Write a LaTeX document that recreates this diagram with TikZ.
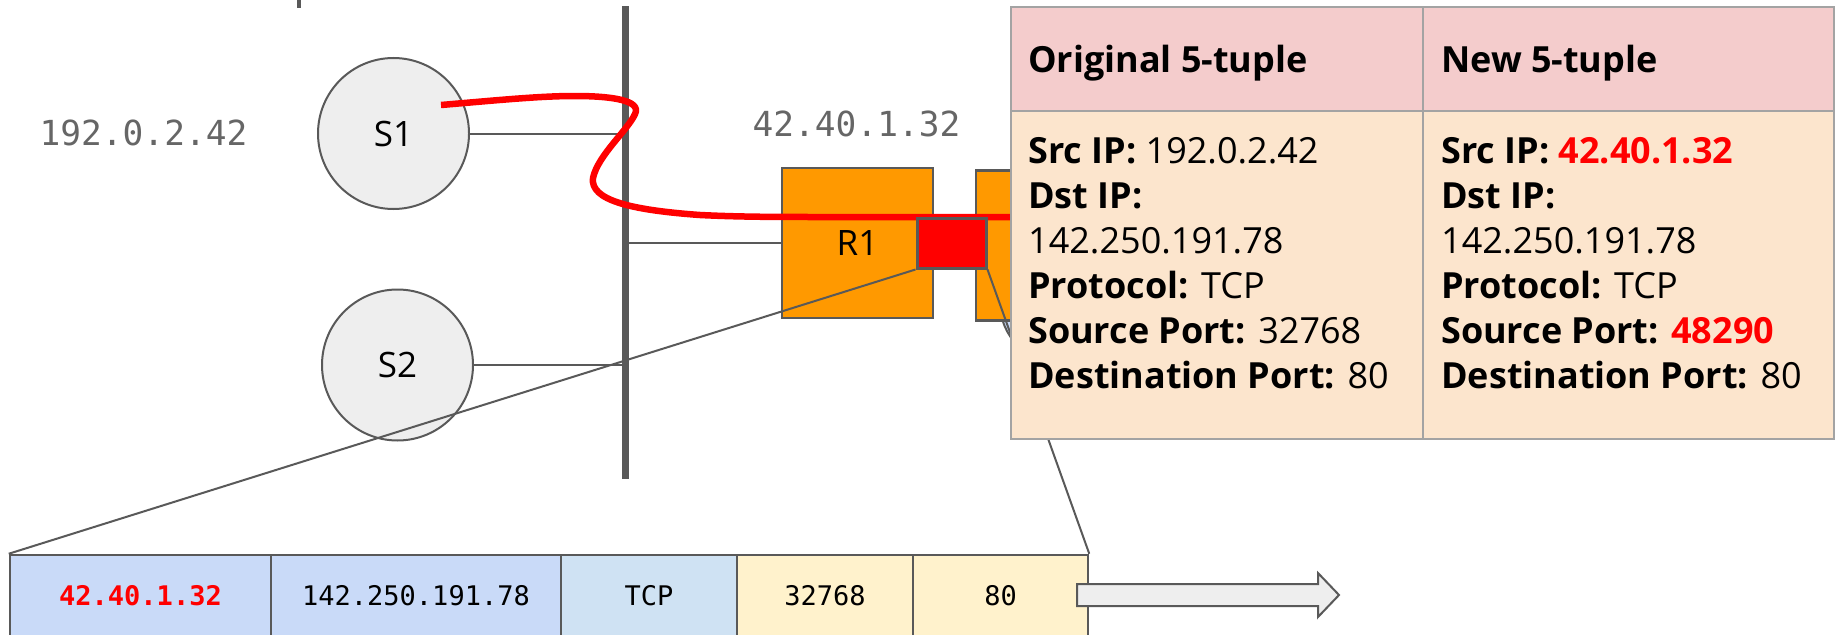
\documentclass[tikz,border=0pt]{standalone}
\usepackage{fontspec}
\setmainfont{Open Sans}
\newfontfamily\dvmono{DejaVu Sans Mono}
\definecolor{linegray}{HTML}{595959}
\definecolor{hostfill}{HTML}{EEEEEE}
\definecolor{routerorange}{HTML}{FF9900}
\definecolor{natred}{HTML}{FF0000}
\definecolor{labelgray}{HTML}{666666}
\definecolor{hdrfill}{HTML}{F4CCCC}
\definecolor{bodyfill}{HTML}{FCE5CD}
\definecolor{tborder}{HTML}{A3A3A3}
\definecolor{pktblue}{HTML}{C9DAF8}
\definecolor{pktlblue}{HTML}{CFE2F3}
\definecolor{pktyellow}{HTML}{FFF2CC}
\begin{document}
\begin{tikzpicture}[x=1pt,y=-1pt,
  gline/.style={draw=linegray, line width=2},
  host/.style={circle, draw=linegray, line width=2, fill=hostfill, minimum size=151, inner sep=0, font=\fontsize{35}{40}\selectfont},
  router/.style={rectangle, draw=linegray, line width=2.5, fill=routerorange, inner sep=0, minimum width=151, minimum height=150, font=\fontsize{35}{40}\selectfont},
  iplabel/.style={anchor=base, inner sep=0, text=labelgray, font=\dvmono\fontsize{34.5}{40}\selectfont},
  hdrcell/.style={rectangle, draw=tborder, line width=2, fill=hdrfill, inner sep=0, minimum height=104},
  bodycell/.style={rectangle, draw=tborder, line width=2, fill=bodyfill, inner sep=0, minimum height=328},
  hdrtext/.style={anchor=base west, inner sep=0, font=\bfseries\fontsize{36}{45}\selectfont},
  ttext/.style={anchor=base west, inner sep=0, font=\fontsize{36}{45}\selectfont},
  pkt/.style={rectangle, draw=linegray, line width=2.5, inner sep=0, minimum height=82, font=\dvmono\fontsize{27}{30}\selectfont},
]
\useasboundingbox (0,0) rectangle (1835,634);
\clip (0,0) rectangle (1835,634);

% small tick at top
\draw[linegray, line width=4] (299,0) -- (299,8);

% network bar
\node[fill=linegray, minimum width=7, minimum height=473, inner sep=0] (bar) at (625.5,242.5) {};

% hosts and router
\node[host] (S1) at (393.5,133.5) {S1};
\node[host] (S2) at (397.5,365) {S2};
\node[circle, draw=linegray, line width=2, fill=pktblue, minimum size=120, inner sep=0] (cloud) at (1060,303) {};
\node[router] (R1) at (857.5,243) {R1};
\node[router] (R2) at (1051.5,245.5) {};

% links to bar
\draw[gline] (S1.east) -- (S1.east -| bar.west);
\draw[gline] (S2.east) -- (S2.east -| bar.west);
\draw[gline] (R1.west -| bar.east) -- (R1.west);

% address labels
\node[iplabel] (ipS1) at (143.5,145) {192.0.2.42};
\node[iplabel] (ipR1) at (856.5,136) {42.40.1.32};

% packet path
\draw[natred, line width=6.5]
  (441,105) .. controls (500,100) and (540,96) .. (575,96)
  .. controls (610,96) and (642,100) .. (635,114)
  .. controls (628,130) and (598,155) .. (593,178)
  .. controls (590,200) and (630,210) .. (700,215)
  .. controls (740,217) and (780,217) .. (820,217)
  -- (1020,217);

% packet on the wire
\node[rectangle, draw=linegray, line width=3, fill=natred, inner sep=0, minimum width=69, minimum height=50] (nat) at (951.5,243) {};

% packet fields
\node[pkt, fill=pktblue, minimum width=261] (p1) at (140.5,596) {\bfseries\textcolor{natred}{42.40.1.32}};
\node[pkt, fill=pktblue, minimum width=290] (p2) at (416,596) {142.250.191.78};
\node[pkt, fill=pktlblue, minimum width=176] (p3) at (649,596) {TCP};
\node[pkt, fill=pktyellow, minimum width=176] (p4) at (825,596) {32768};
\node[pkt, fill=pktyellow, minimum width=175] (p5) at (1000.5,596) {80};

% zoom lines
\draw[gline] (nat.south west) -- (p1.north west);
\draw[gline] (nat.south east) -- (p5.north east);

% output arrow
\draw[draw=linegray, line width=2, fill=hostfill, line join=miter]
  (1077,584) -- (1318,584) -- (1318,573) -- (1339,595) -- (1318,617) -- (1318,606) -- (1077,606) -- cycle;

% table
\node[hdrcell, minimum width=412] (h1) at (1217,59) {};
\node[hdrcell, minimum width=411] (h2) at (1628.5,59) {};
\node[bodycell, minimum width=412] (b1) at (1217,275) {};
\node[bodycell, minimum width=411] (b2) at (1628.5,275) {};

\node[hdrtext] (t1) at (1028,72) {Original 5-tuple};
\node[hdrtext] (t2) at (1441,72) {New 5-tuple};

\node[ttext] (o1) at (1028,163) {\textbf{Src IP:} 192.0.2.42};
\node[ttext] (o2) at (1028,208) {\textbf{Dst IP:}};
\node[ttext] (o3) at (1028,253) {142.250.191.78};
\node[ttext] (o4) at (1028,298) {\textbf{Protocol:} TCP};
\node[ttext] (o5) at (1028,343) {\textbf{Source Port:} 32768};
\node[ttext] (o6) at (1028,388) {\textbf{Destination Port:} 80};

\node[ttext] (n1) at (1441,163) {\textbf{Src IP: \textcolor{natred}{42.40.1.32}}};
\node[ttext] (n2) at (1441,208) {\textbf{Dst IP:}};
\node[ttext] (n3) at (1441,253) {142.250.191.78};
\node[ttext] (n4) at (1441,298) {\textbf{Protocol:} TCP};
\node[ttext] (n5) at (1441,343) {\textbf{Source Port: \textcolor{natred}{48290}}};
\node[ttext] (n6) at (1441,388) {\textbf{Destination Port:} 80};
\end{tikzpicture}
\end{document}
